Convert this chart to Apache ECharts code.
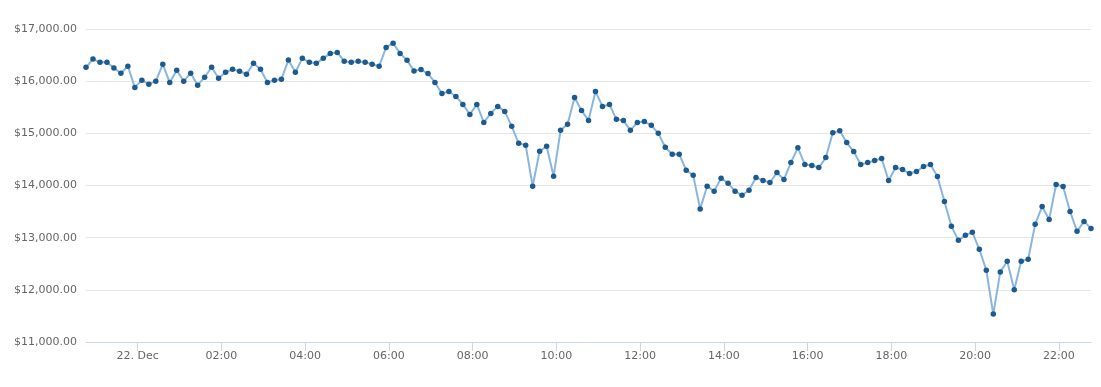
<!DOCTYPE html>
<html>
<head>
<meta charset="utf-8">
<script src="https://cdn.jsdelivr.net/npm/echarts@6/dist/echarts.min.js"></script>
<style>
html,body{margin:0;padding:0;background:#fff;}
#chart{width:1101px;height:387px;}
</style>
</head>
<body>
<div id="chart"></div>
<script>
// First sample: 21 Dec, 22:46 UTC; samples every 10 minutes
var startTimeUTC = Date.UTC(2017, 11, 21, 22, 46);
var stepMinutes = 10;
var prices = [
16266,16424,16361,16361,16253,16152,16285,15880,16019,15943,
16000,16323,15975,16209,16000,16152,15924,16076,16266,16057,
16171,16228,16190,16133,16342,16228,15975,16019,16038,16405,
16171,16437,16361,16342,16437,16532,16551,16380,16361,16380,
16361,16323,16285,16646,16728,16532,16399,16197,16222,16146,
15975,15764,15803,15707,15554,15363,15554,15210,15382,15516,
15420,15134,14809,14771,13987,14656,14752,14178,15057,15172,
15688,15439,15248,15803,15516,15554,15268,15248,15057,15210,
15229,15153,15000,14732,14599,14599,14293,14197,13548,13987,
13892,14140,14045,13892,13812,13908,14153,14096,14057,14248,
14115,14439,14726,14401,14382,14344,14535,15013,15051,14822,
14650,14401,14439,14478,14516,14096,14344,14306,14229,14268,
14363,14401,14172,13694,13217,12949,13045,13102,12777,12376,
11535,12344,12548,12000,12548,12586,13255,13599,13350,14019,
13981,13503,13121,13312,13178
];
// x tick labels: hours of 22 Dec (UTC)
var xTickHours = [0, 2, 4, 6, 8, 10, 12, 14, 16, 18, 20, 22];
var yTicks = [11000, 12000, 13000, 14000, 15000, 16000, 17000];
var monthNames = ['Jan','Feb','Mar','Apr','May','Jun','Jul','Aug','Sep','Oct','Nov','Dec'];

var seriesData = prices.map(function (v, i) {
  return [startTimeUTC + i * stepMinutes * 60000, v];
});
var xTickValues = xTickHours.map(function (h) { return Date.UTC(2017, 11, 22, h, 0); });

function fmtTime(val) {
  var d = new Date(val);
  var h = d.getUTCHours(), m = d.getUTCMinutes();
  if (h === 0 && m === 0) return d.getUTCDate() + '. ' + monthNames[d.getUTCMonth()];
  return (h < 10 ? '0' : '') + h + ':' + (m < 10 ? '0' : '') + m;
}

var chart = echarts.init(document.getElementById('chart'));
chart.setOption({
  animation: false,
  textStyle: {fontFamily: 'DejaVu Sans'},
  grid: {left: 86, right: 10, top: 29, bottom: 45, containLabel: false},
  xAxis: {
    type: 'value',
    scale: true,
    min: seriesData[0][0],
    max: seriesData[seriesData.length - 1][0],
    axisLine: {lineStyle: {color: '#ccd6eb', width: 1}},
    axisTick: {show: true, length: 9, customValues: xTickValues, lineStyle: {color: '#ccd6eb'}},
    splitLine: {show: false},
    axisLabel: {
      color: '#666666',
      fontSize: 11,
      margin: 9,
      customValues: xTickValues,
      hideOverlap: false,
      formatter: function (val) { return fmtTime(val); }
    }
  },
  yAxis: {
    type: 'value',
    min: yTicks[0],
    max: yTicks[yTicks.length - 1],
    interval: 1000,
    axisLine: {show: false},
    axisTick: {show: false},
    splitLine: {lineStyle: {color: '#e6e6e6', width: 1}},
    axisLabel: {
      color: '#666666',
      fontSize: 11,
      margin: 9,
      formatter: function (v) {
        return '$' + v.toLocaleString('en-US', {minimumFractionDigits: 2, maximumFractionDigits: 2});
      }
    }
  },
  series: [{
    type: 'line',
    data: seriesData,
    symbol: 'circle',
    symbolSize: 5.5,
    showAllSymbol: true,
    lineStyle: {color: '#89b6e0', width: 2},
    itemStyle: {color: '#1d5a8e', borderWidth: 0}
  }]
});
</script>
</body>
</html>
